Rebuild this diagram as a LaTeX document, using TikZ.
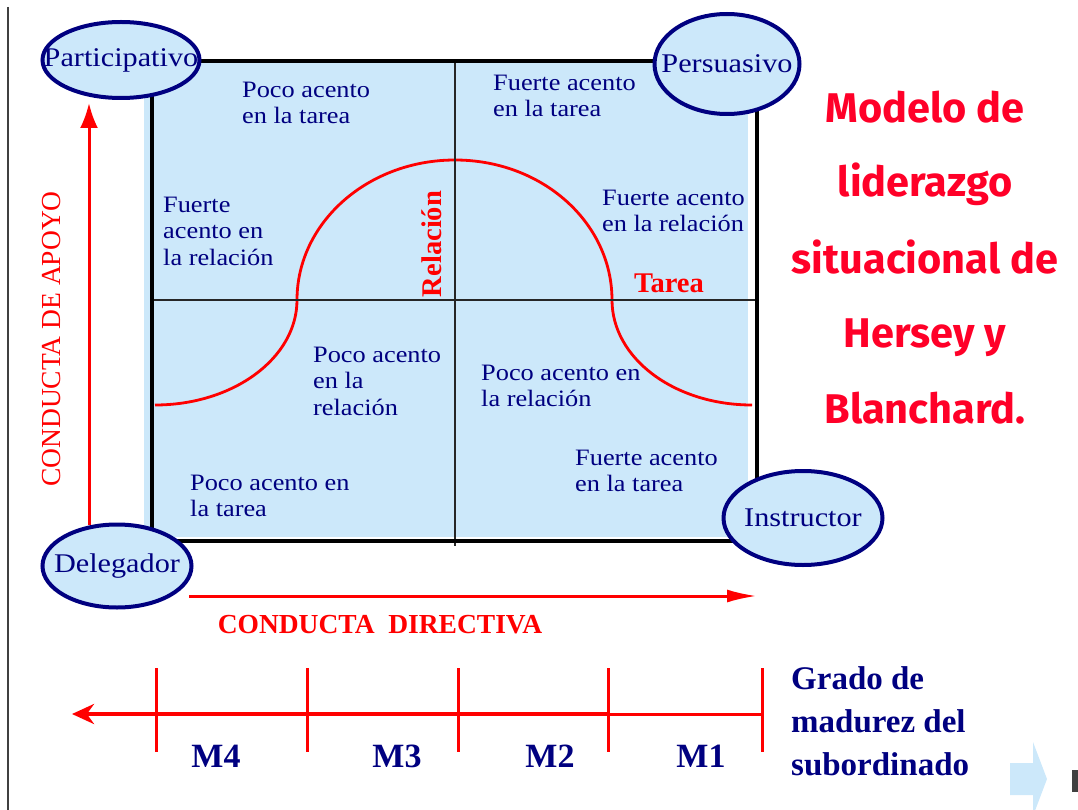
\documentclass[tikz,border=0pt]{standalone}
\usepackage{fontspec}
\setmainfont{Liberation Serif}[FakeStretch=1.12]
\newfontfamily\plainserif{Liberation Serif}
\newfontfamily\titlefont{Fira Sans}
\usetikzlibrary{shapes.geometric,arrows.meta}
\definecolor{boxblue}{RGB}{204,232,250}
\definecolor{navy}{RGB}{0,0,128}
\definecolor{redx}{RGB}{255,0,0}
\definecolor{titlered}{RGB}{255,0,40}
\begin{document}
\begin{tikzpicture}[x=1pt,y=-1pt,
  quad/.style={anchor=north west, inner sep=0pt, align=left, text=navy,
    font=\fontsize{23.5}{26.5}\selectfont},
  rolebg/.style={draw=navy, line width=4pt, fill=boxblue},
  role/.style={inner sep=0pt, text=navy, font=\fontsize{27}{30}\selectfont},
  axislbl/.style={text=redx, inner sep=0pt, font=\plainserif\fontsize{27.5}{30}\selectfont},
  curvelbl/.style={text=redx, inner sep=0pt, font=\plainserif\bfseries\fontsize{28.5}{30}\selectfont},
  mlbl/.style={text=navy, inner sep=0pt, anchor=base, font=\plainserif\bfseries\fontsize{34}{40}\selectfont},
  titlestyle/.style={text=titlered, inner sep=0pt, anchor=base, font=\titlefont\bfseries\fontsize{41.5}{44}\selectfont},
  redaxis/.style={draw=redx, line width=3pt},
  tick/.style={draw=redx, line width=3pt}
]
\useasboundingbox (0,0) rectangle (1078,810);
% left frame line
\draw[line width=2pt, black!75] (8,7) -- (8,810);
% blue fill and grid
\fill[boxblue] (144,63) rectangle (748,537);
\draw[redx, line width=2.8pt] (155,405) .. controls (233.4,405) and (297,358) .. (297,300)
  .. controls (297,222.7) and (367.7,160) .. (455,160)
  .. controls (542.3,160) and (612,222.7) .. (612,300)
  .. controls (612,358) and (674,405) .. (752,405);
\draw[line width=2.5pt, black!85] (455,61) -- (455,546);
\draw[line width=2.5pt, black!85] (152,300) -- (757,300);
\draw[line width=4.5pt, black] (152,61) rectangle (757,541);
% quadrant texts
\node[quad] (q1) at (242,78.5) {\strut Poco acento\\en la tarea};
\node[quad] (q2) at (163,193.5) {\strut Fuerte\\acento en\\la relación};
\node[quad] (q3) at (493,71.5) {\strut Fuerte acento\\en la tarea};
\node[quad] (q4) at (602,186.5) {\strut Fuerte acento\\en la relación};
\node[quad] (q5) at (313,343.5) {\strut Poco acento\\en la\\relación};
\node[quad] (q6) at (190,471.5) {\strut Poco acento en\\la tarea};
\node[quad] (q7) at (481,361.5) {\strut Poco acento en\\la relación};
\node[quad] (q8) at (575,446.5) {\strut Fuerte acento\\en la tarea};
% curve labels
\node[curvelbl, rotate=90] (rel) at (432,244) {Relación};
\node[curvelbl, anchor=base] (tar) at (669,292) {Tarea};
% axes
\coordinate (vstart) at (89,525);
\coordinate (vend) at (89,103);
\draw[redaxis, -{Latex[length=25pt,width=18pt]}] (vstart) -- (vend);
\coordinate (hstart) at (189,596);
\coordinate (hend) at (757,596);
\draw[redaxis, -{Latex[length=30pt,width=13pt]}] (hstart) -- (hend);
\node[axislbl, rotate=90] (apoyo) at (52,339) {CONDUCTA DE APOYO};
\node[axislbl, anchor=base, font=\plainserif\bfseries\fontsize{27.5}{30}\selectfont] (directiva) at (380,633) {CONDUCTA\ \ DIRECTIVA};
% ellipses
\path[rolebg] (121,60) ellipse [x radius=78.5, y radius=38];
\node[role] (part) at (121,60) {Participativo};
\path[rolebg] (727,64) ellipse [x radius=72.5, y radius=50];
\node[role] (pers) at (727,64) {Persuasivo};
\path[rolebg] (117,566) ellipse [x radius=74.5, y radius=41.5];
\node[role] (dele) at (117,566) {Delegador};
\path[rolebg] (803,518) ellipse [x radius=79.5, y radius=47];
\node[role] (inst) at (803,518) {Instructor};
% title
\node[titlestyle] (t1) at (925,123) {Modelo de};
\node[titlestyle] (t2) at (925,197) {liderazgo};
\node[titlestyle] (t3) at (925,273) {situacional de};
\node[titlestyle] (t4) at (925,347) {Hersey y};
\node[titlestyle] (t5) at (925,423) {Blanchard.};
% maturity scale
\coordinate (sR) at (762,714);
\coordinate (sM) at (608,714);
\coordinate (sL) at (72,714);
\draw[draw=redx, line width=3pt] (sR) -- (sM);
\draw[draw=redx, line width=4pt, -{Stealth[length=22pt,width=20pt]}] (sM) -- (sL);
\foreach \x/\n in {156/a,307/b,458/c,608/d,762/e}{
  \coordinate (tk\n1) at (\x,668);
  \coordinate (tk\n2) at (\x,752);
  \draw[tick] (tk\n1) -- (tk\n2);
}
\node[mlbl] (m4) at (216,767) {M4};
\node[mlbl] (m3) at (397,767) {M3};
\node[mlbl] (m2) at (550,767) {M2};
\node[mlbl] (m1) at (701,767) {M1};
\node[anchor=north west, inner sep=0pt, align=left, text=navy,
  font=\plainserif\bfseries\fontsize{33}{43}\selectfont] (grado) at (791,658.9)
  {\strut Grado de\\madurez del\\subordinado};
% decorative leftovers
\fill[boxblue] (1010,763) -- (1033,763) -- (1033,742) -- (1047,779) -- (1033,816)
  -- (1033,795) -- (1010,795) -- cycle;
\fill[black!75] (1072,770) rectangle (1078,792);
\end{tikzpicture}
\end{document}
